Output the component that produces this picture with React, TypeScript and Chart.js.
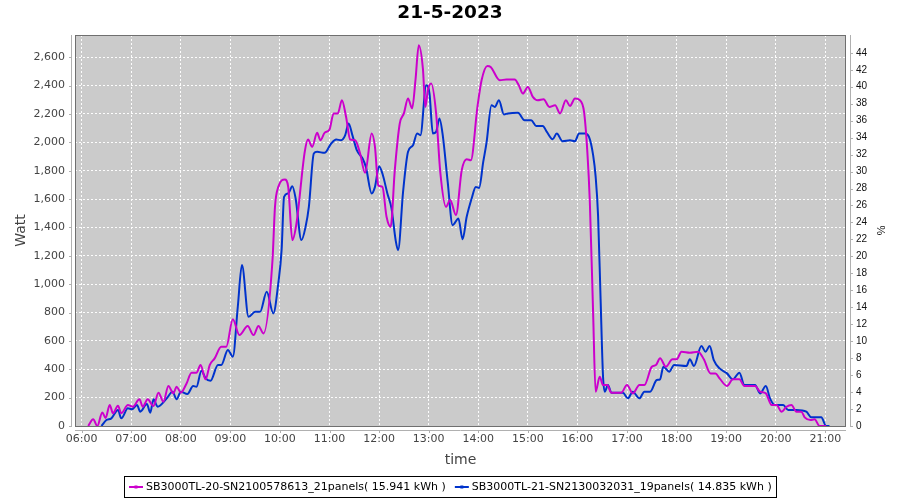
import React, { useEffect, useRef } from "react";
import { Chart, registerables } from "chart.js";

Chart.register(...registerables);

const chartTitle = "21-5-2023";
const xAxisTitle = "time";
const yAxisTitle = "Watt";
const y2AxisTitle = "%";

const seriesNames = [
  "SB3000TL-20-SN2100578613_21panels( 15.941 kWh )",
  "SB3000TL-21-SN2130032031_19panels( 14.835 kWh )",
];
const seriesColors = ["#cc00cc", "#0033cc"];

const inv20Times = [
  "06:08", "06:14", "06:19", "06:25", "06:29", "06:34", "06:38", "06:44", "06:48", "06:56",
  "07:02", "07:10", "07:14", "07:20", "07:27", "07:33", "07:39", "07:45", "07:51", "07:55",
  "08:00", "08:07", "08:13", "08:19", "08:24", "08:30", "08:35", "08:41", "08:49", "08:55",
  "09:03", "09:11", "09:21", "09:28", "09:34", "09:40", "09:51", "09:54", "09:58", "10:06",
  "10:10", "10:15", "10:20", "10:30", "10:34", "10:39", "10:45", "10:49", "10:54", "11:00",
  "11:05", "11:10", "11:15", "11:20", "11:25", "11:31", "11:37", "11:43", "11:51", "11:55",
  "11:59", "12:04", "12:09", "12:14", "12:19", "12:25", "12:30", "12:35", "12:40", "12:44",
  "12:48", "12:53", "12:56", "12:59", "13:03", "13:09", "13:14", "13:21", "13:26", "13:33",
  "13:40", "13:46", "13:51", "13:59", "14:04", "14:11", "14:15", "14:26", "14:34", "14:44",
  "14:49", "14:54", "15:00", "15:06", "15:12", "15:19", "15:26", "15:33", "15:39", "15:46",
  "15:51", "15:57", "16:03", "16:08", "16:12", "16:15", "16:19", "16:22", "16:27", "16:31",
  "16:36", "16:41", "16:53", "17:00", "17:07", "17:15", "17:21", "17:30", "17:35", "17:40",
  "17:47", "17:55", "18:00", "18:06", "18:16", "18:26", "18:33", "18:41", "18:47", "18:52",
  "19:01", "19:08", "19:16", "19:22", "19:35", "19:41", "19:48", "19:55", "20:01", "20:07",
  "20:13", "20:19", "20:25", "20:31", "20:35", "20:42", "20:47", "20:53", "21:01",
];
const inv20Watts = [
  0, 47, 0, 96, 56, 148, 90, 143, 90, 148,
  136, 188, 136, 188, 141, 235, 171, 282, 230, 277,
  235, 300, 376, 376, 430, 329, 430, 477, 559, 559,
  752, 641, 705, 641, 705, 653, 1170, 1545, 1686, 1738,
  1686, 1311, 1428, 1933, 2020, 1968, 2067, 2015, 2067, 2091,
  2204, 2204, 2297, 2180, 2020, 2015, 1921, 1785, 2063, 1968,
  1698, 1686, 1475, 1404, 1804, 2133, 2204, 2309, 2239, 2438,
  2685, 2520, 2250, 2368, 2415, 2204, 1792, 1545, 1593, 1487,
  1804, 1881, 1874, 2250, 2438, 2539, 2532, 2438, 2443, 2443,
  2403, 2344, 2391, 2321, 2297, 2304, 2250, 2262, 2204, 2297,
  2257, 2309, 2297, 2215, 1933, 1581, 794, 242, 347, 289,
  289, 235, 235, 289, 230, 289, 289, 418, 430, 477,
  418, 470, 470, 524, 517, 524, 470, 371, 371, 336,
  282, 329, 329, 282, 282, 242, 230, 148, 148, 101,
  136, 148, 101, 101, 61, 42, 47, 0, 0,
];

const inv21Times = [
  "06:24", "06:30", "06:36", "06:44", "06:48", "06:56", "07:01", "07:07", "07:11", "07:19",
  "07:23", "07:27", "07:32", "07:43", "07:50", "07:55", "08:00", "08:08", "08:15", "08:19",
  "08:25", "08:30", "08:36", "08:45", "08:49", "08:57", "09:03", "09:09", "09:14", "09:22",
  "09:30", "09:36", "09:44", "09:52", "09:58", "10:02", "10:05", "10:10", "10:15", "10:19",
  "10:26", "10:31", "10:35", "10:41", "10:45", "10:54", "11:02", "11:08", "11:14", "11:19",
  "11:23", "11:28", "11:33", "11:40", "11:44", "11:51", "11:55", "12:00", "12:04", "12:10",
  "12:15", "12:20", "12:23", "12:29", "12:35", "12:41", "12:46", "12:50", "12:57", "13:01",
  "13:05", "13:09", "13:13", "13:17", "13:23", "13:29", "13:36", "13:41", "13:46", "13:52",
  "13:57", "14:01", "14:06", "14:10", "14:16", "14:20", "14:25", "14:31", "14:36", "14:48",
  "14:56", "15:04", "15:10", "15:18", "15:23", "15:30", "15:35", "15:42", "15:51", "15:57",
  "16:02", "16:09", "16:14", "16:19", "16:22", "16:25", "16:28", "16:31", "16:33", "16:37",
  "16:41", "16:55", "17:01", "17:07", "17:15", "17:21", "17:28", "17:36", "17:40", "17:44",
  "17:51", "17:57", "18:12", "18:16", "18:21", "18:30", "18:35", "18:40", "18:45", "18:52",
  "19:01", "19:08", "19:16", "19:22", "19:35", "19:41", "19:48", "19:53", "19:59", "20:09",
  "20:15", "20:25", "20:37", "20:43", "20:55", "21:01", "21:05",
];
const inv21Watts = [
  0, 42, 54, 113, 54, 125, 118, 148, 101, 155,
  94, 188, 136, 195, 242, 188, 242, 226, 282, 277,
  390, 336, 319, 430, 430, 536, 489, 841, 1135, 770,
  805, 805, 946, 794, 1006, 1240, 1616, 1640, 1691, 1604,
  1311, 1404, 1545, 1921, 1933, 1926, 1992, 2020, 2015, 2051,
  2133, 2044, 1945, 1886, 1827, 1640, 1686, 1832, 1780, 1640,
  1534, 1311, 1240, 1651, 1933, 1980, 2063, 2051, 2403, 2344,
  2063, 2074, 2168, 2051, 1721, 1416, 1463, 1317, 1475, 1604,
  1686, 1679, 1862, 1998, 2262, 2250, 2297, 2197, 2204, 2208,
  2156, 2156, 2116, 2116, 2074, 2022, 2063, 2008, 2015, 2008,
  2063, 2063, 2039, 1910, 1760, 1480, 900, 347, 242, 289,
  235, 235, 195, 242, 195, 242, 242, 324, 329, 418,
  383, 430, 423, 470, 423, 564, 524, 564, 465, 406,
  371, 329, 376, 289, 289, 230, 282, 195, 148, 148,
  113, 113, 101, 61, 61, 0, 0,
];

const hourTicks = [
  "06:00", "07:00", "08:00", "09:00", "10:00", "11:00", "12:00", "13:00",
  "14:00", "15:00", "16:00", "17:00", "18:00", "19:00", "20:00", "21:00",
];
const wattTicks = [0, 200, 400, 600, 800, 1000, 1200, 1400, 1600, 1800, 2000, 2200, 2400, 2600];
const pctTicks = [0, 2, 4, 6, 8, 10, 12, 14, 16, 18, 20, 22, 24, 26, 28, 30, 32, 34, 36, 38, 40, 42, 44];

const xRange = { min: 352, max: 1285 };
const wattMax = 2757;
const pctMax = 46.1;

const toMin = (s: string) => {
  const [h, m] = s.split(":").map(Number);
  return h * 60 + m;
};

const FONT = "'DejaVu Sans', sans-serif";

const framePlugin = {
  id: "frame",
  beforeDraw(chart: any) {
    const { ctx, chartArea: a } = chart;
    ctx.save();
    ctx.fillStyle = "#cbcbcb";
    ctx.fillRect(a.left, a.top, a.right - a.left, a.bottom - a.top);
    ctx.restore();
  },
  afterDraw(chart: any) {
    const { ctx, chartArea: a, scales } = chart;
    ctx.save();
    ctx.lineWidth = 1;
    // plot outline
    ctx.strokeStyle = "#6f6f6f";
    ctx.strokeRect(a.left + 0.5, a.top + 0.5, a.right - a.left - 1, a.bottom - a.top);
    // axis lines (offset from plot)
    ctx.strokeStyle = "#b0b0b0";
    const lx = a.left - 3.5;
    const rx = a.right + 4.5;
    const by = a.bottom + 4.5;
    ctx.beginPath();
    ctx.moveTo(lx, a.top);
    ctx.lineTo(lx, a.bottom + 1);
    ctx.moveTo(rx, a.top);
    ctx.lineTo(rx, a.bottom + 1);
    ctx.moveTo(a.left, by);
    ctx.lineTo(a.right, by);
    // tick marks
    for (const t of scales.y.ticks) {
      const y = Math.round(scales.y.getPixelForValue(t.value)) + 0.5;
      ctx.moveTo(lx, y);
      ctx.lineTo(lx - 2.5, y);
    }
    for (const t of scales.y1.ticks) {
      const y = Math.round(scales.y1.getPixelForValue(t.value)) + 0.5;
      ctx.moveTo(rx, y);
      ctx.lineTo(rx + 2.5, y);
    }
    for (const t of scales.x.ticks) {
      const x = Math.round(scales.x.getPixelForValue(t.value)) + 0.5;
      ctx.moveTo(x, by);
      ctx.lineTo(x, by + 2.5);
    }
    ctx.stroke();

    // legend
    const names = chart.data.datasets.map((d: any) => d.label as string);
    const colors = chart.data.datasets.map((d: any) => d.borderColor as string);
    ctx.font = `11px ${FONT}`;
    const sym = 16;
    const gap = 2;
    const itemGap = 8;
    const pad = 4;
    const widths = names.map((n: string) => ctx.measureText(n).width);
    const total =
      pad * 2 +
      widths.reduce((s: number, w: number) => s + sym + gap + w, 0) +
      itemGap * (names.length - 1);
    const left = Math.round(chart.width / 2 - total / 2);
    const top = 476;
    const h = 21;
    ctx.strokeStyle = "#000";
    ctx.strokeRect(left + 0.5, top + 0.5, Math.round(total), h);
    let x = left + pad;
    const cy = top + h / 2 + 0.5;
    names.forEach((n: string, i: number) => {
      ctx.strokeStyle = colors[i];
      ctx.fillStyle = colors[i];
      ctx.lineWidth = 2;
      ctx.beginPath();
      ctx.moveTo(x + 1, cy);
      ctx.lineTo(x + sym - 1, cy);
      ctx.stroke();
      ctx.fillRect(x + sym / 2 - 1.5, cy - 1.5, 3, 3);
      x += sym + gap;
      ctx.fillStyle = "#000";
      ctx.textBaseline = "middle";
      ctx.textAlign = "left";
      ctx.fillText(n, x, cy);
      x += widths[i] + itemGap;
    });
    ctx.restore();
  },
};

export default function App() {
  const canvasRef = useRef<HTMLCanvasElement | null>(null);

  useEffect(() => {
    if (!canvasRef.current) return;
    const gridCommon = {
      color: "rgba(255,255,255,0.95)",
      lineWidth: 1,
      drawTicks: false,
    };
    const chart = new Chart(canvasRef.current, {
      type: "line",
      data: {
        datasets: [
          {
            label: seriesNames[0],
            data: inv20Times.map((t, i) => ({ x: toMin(t), y: inv20Watts[i] })),
            borderColor: seriesColors[0],
            backgroundColor: seriesColors[0],
            borderWidth: 2,
            pointRadius: 0,
            cubicInterpolationMode: "monotone",
            yAxisID: "y",
          },
          {
            label: seriesNames[1],
            data: inv21Times.map((t, i) => ({ x: toMin(t), y: inv21Watts[i] })),
            borderColor: seriesColors[1],
            backgroundColor: seriesColors[1],
            borderWidth: 2,
            pointRadius: 0,
            cubicInterpolationMode: "monotone",
            yAxisID: "y",
          },
        ],
      },
      options: {
        responsive: false,
        animation: false,
        devicePixelRatio: 1,
        events: [],
        layout: { padding: { top: 0, left: 0, right: 0, bottom: 30 } },
        plugins: {
          legend: { display: false },
          tooltip: { enabled: false },
          title: {
            display: true,
            text: chartTitle,
            color: "#000",
            font: { family: FONT, size: 18.5, weight: "bold" },
            padding: { top: 2.4, bottom: 10.4 },
          },
        },
        scales: {
          x: {
            type: "linear",
            position: "bottom",
            min: xRange.min,
            max: xRange.max,
            afterBuildTicks: (s: any) => {
              s.ticks = hourTicks.map((t) => ({ value: toMin(t) }));
            },
            afterFit: (s: any) => {
              s.height = 44;
            },
            grid: { ...gridCommon },
            border: { display: false, dash: [2, 2] },
            ticks: {
              autoSkip: false,
              maxRotation: 0,
              padding: 7,
              color: "#444",
              font: { family: FONT, size: 11 },
              callback: (_v: any, i: number) => hourTicks[i],
            },
            title: {
              display: true,
              text: xAxisTitle,
              color: "#444",
              font: { family: FONT, size: 14 },
              padding: { top: 0, bottom: 1.6 },
            },
          },
          y: {
            type: "linear",
            position: "left",
            min: 0,
            max: wattMax,
            afterBuildTicks: (s: any) => {
              s.ticks = wattTicks.map((v) => ({ value: v }));
            },
            afterFit: (s: any) => {
              s.width = 75;
            },
            grid: { ...gridCommon },
            border: { display: false, dash: [2, 2] },
            ticks: {
              autoSkip: false,
              padding: 10,
              color: "#444",
              font: { family: FONT, size: 11 },
              callback: (v: any) => Number(v).toLocaleString("en-US"),
            },
            title: {
              display: true,
              text: yAxisTitle,
              color: "#444",
              font: { family: FONT, size: 14 },
              padding: { top: 12.6, bottom: 0 },
            },
          },
          y1: {
            type: "linear",
            position: "right",
            min: 0,
            max: pctMax,
            afterBuildTicks: (s: any) => {
              s.ticks = pctTicks.map((v) => ({ value: v }));
            },
            afterFit: (s: any) => {
              s.width = 54;
            },
            grid: { display: false, drawOnChartArea: false, drawTicks: false },
            border: { display: false },
            ticks: {
              autoSkip: false,
              padding: 10,
              color: "#111",
              font: { family: "'Liberation Sans', sans-serif", size: 10 },
              callback: (v: any) => String(v),
            },
            title: {
              display: true,
              text: y2AxisTitle,
              color: "#111",
              font: { family: "'Liberation Sans', sans-serif", size: 11 },
              padding: { top: 13.4, bottom: 0 },
            },
          },
        },
      } as any,
      plugins: [framePlugin],
    });
    return () => chart.destroy();
  }, []);

  return (
    <div style={{ position: "absolute", left: 0, top: 0, width: 900, height: 500, background: "#fff" }}>
      <canvas ref={canvasRef} width={900} height={500} style={{ display: "block" }} />
    </div>
  );
}
